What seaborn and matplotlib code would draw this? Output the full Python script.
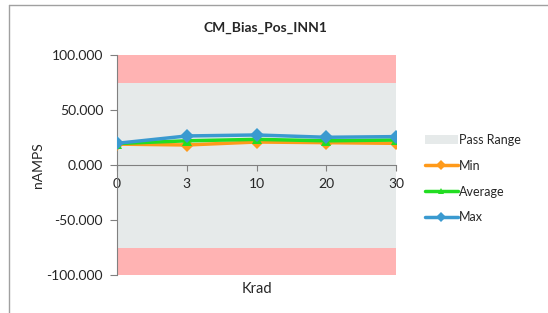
import pandas as pd
import numpy as np
import matplotlib
matplotlib.use("Agg")
import matplotlib.pyplot as plt
from matplotlib.lines import Line2D
from matplotlib.patches import Patch
import seaborn as sns

# values
krad = ["0", "3", "10", "20", "30"]
min_vals = [19.0, 18.2, 20.9, 20.3, 19.7]
avg_vals = [19.5, 22.0, 23.3, 22.0, 22.7]
max_vals = [19.7, 26.4, 27.3, 25.2, 25.8]
pass_lo, pass_hi = -75, 75
y_lo, y_hi = -100, 100

series = ["Min", "Average", "Max"]
colors = {"Min": "#FF9A1A", "Average": "#22DD22", "Max": "#3A9AD0"}
markers = {"Min": "D", "Average": "^", "Max": "D"}

df = pd.DataFrame({
    "pos": list(range(len(krad))) * 3,
    "value": min_vals + avg_vals + max_vals,
    "series": ["Min"] * 5 + ["Average"] * 5 + ["Max"] * 5,
})

sns.set_style("white")
plt.rcParams["font.family"] = ["Lato", "DejaVu Sans"]

fig = plt.figure(figsize=(5.48, 3.13), dpi=100)
ax = fig.add_axes([117 / 548, 1 - 275 / 313, (396 - 117) / 548, (275 - 55) / 313])

# pass / fail bands
ax.axhspan(pass_hi, y_hi, color="#FFB3B3", lw=0, zorder=0)
ax.axhspan(y_lo, pass_lo, color="#FFB3B3", lw=0, zorder=0)
ax.axhspan(pass_lo, pass_hi, color="#E6EAEA", lw=0, zorder=0)

sns.lineplot(data=df, x="pos", y="value", hue="series", style="series",
             palette=colors, markers=markers, dashes=False, hue_order=series,
             style_order=series, linewidth=2.5, markersize=7,
             markeredgewidth=0, legend=False, ax=ax, zorder=3)

ax.set_xlim(0, len(krad) - 1)
ax.set_ylim(y_lo, y_hi)
ax.set_xticks(range(len(krad)))
ax.set_xticklabels(krad, fontsize=9)
ax.set_yticks([-100, -50, 0, 50, 100])
ax.set_yticklabels([f"{v:.3f}" for v in [-100, -50, 0, 50, 100]], fontsize=10)

for s in ["top", "right"]:
    ax.spines[s].set_visible(False)
ax.spines["bottom"].set_position(("data", 0))
ax.spines["bottom"].set_color("#808080")
ax.spines["left"].set_color("#808080")
ax.spines["bottom"].set_zorder(2)
ax.tick_params(axis="y", direction="out", length=5, color="#808080", left=True, pad=5)
ax.tick_params(axis="x", direction="out", length=4, color="#808080", bottom=True, pad=5)

ax.set_xlabel("Krad", fontsize=10.5)
ax.xaxis.set_label_coords(0.5, -0.03)
ax.set_ylabel("nAMPS", fontsize=10)
ax.yaxis.set_label_coords(-0.26, 0.5)
fig.text(265 / 548, 1 - 28 / 313, "CM_Bias_Pos_INN1", ha="center", va="center",
         fontsize=10, fontweight="bold")

handles = [Patch(facecolor="#E6EAEA", edgecolor="none", label="Pass Range")]
for s in series:
    handles.append(Line2D([], [], color=colors[s], marker=markers[s], lw=2.5,
                          markersize=5, markeredgewidth=0, label=s))
fig.legend(handles=handles, loc="upper left", bbox_to_anchor=(420 / 548, 1 - 129 / 313),
           frameon=False, fontsize=9, handlelength=2.6, handletextpad=0.1,
           labelspacing=1.1, borderaxespad=0)

# chart border (Excel chart area)
fig.add_artist(Line2D([9 / 548, 9 / 548], [0, 1 - 5 / 313], color="#A0A0A0", lw=1))
fig.add_artist(Line2D([9 / 548, 1], [1 - 5 / 313, 1 - 5 / 313], color="#A0A0A0", lw=1))

fig.savefig("out.png", dpi=100)
